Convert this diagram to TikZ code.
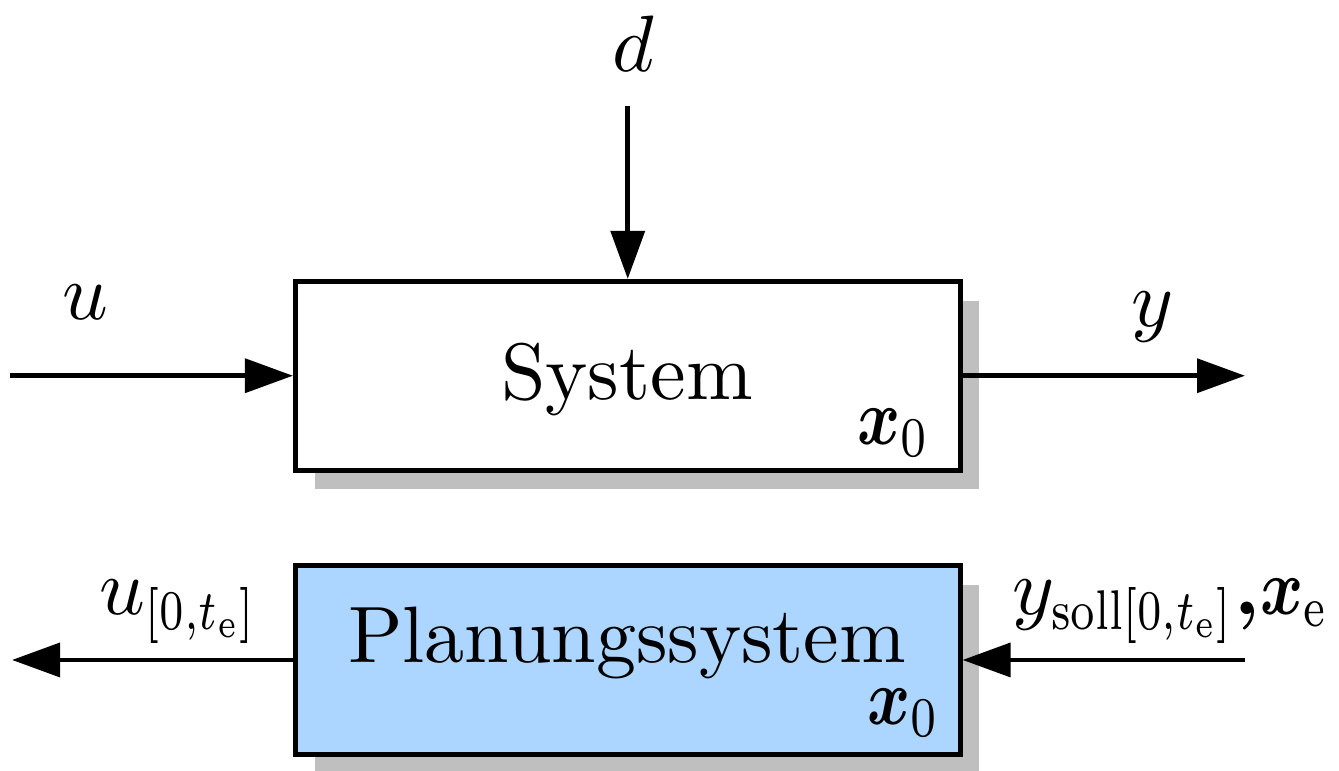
\documentclass[tikz,border=0pt]{standalone}
\usepackage{amsmath}
\usepackage{graphicx}
\usetikzlibrary{arrows.meta,shadows}

\definecolor{planfill}{RGB}{172,214,255}

% compact subscripts and state labels
\newcommand{\tightsub}[1]{\scalebox{0.77}[1]{$\scriptstyle #1$}}
\newcommand{\statelbl}[1]{\scalebox{0.82}[1]{$#1$}}

\tikzset{
  blockbox/.style={draw, line width=0.6pt, minimum width=83.1pt, minimum height=23.6pt,
    inner sep=0pt, fill=white,
    drop shadow={shadow xshift=2.4pt, shadow yshift=-2.4pt, fill=black!25, opacity=1}},
  signal/.style={line width=0.6pt, -{Triangle[length=6pt,width=4.2pt]}},
  lbl/.style={inner sep=0pt, outer sep=0pt},
}

\begin{document}
\begin{tikzpicture}[x=0.125pt, y=-0.125pt]
  \useasboundingbox (0,0) rectangle (1339,771);

  % blocks
  \node[blockbox] (sys) at (627.75,375.75) {};
  \node[blockbox, fill=planfill] (plan) at (627.75,660) {};

  % block texts
  \node[lbl, anchor=base] (systxt) at (627,400) {System};
  \node[lbl, anchor=base west] (sysx) at (857,445) {\statelbl{\boldsymbol{x}_0}};
  \node[lbl, anchor=base] (plantxt) at (627,663) {Planungssystem};
  \node[lbl, anchor=base west] (planx) at (867,725) {\statelbl{\boldsymbol{x}_0}};

  % free ends of the signals
  \coordinate (uin) at (10,375.75);
  \coordinate (din) at (627.75,106);
  \coordinate (yout) at (1245,375.75);
  \coordinate (uout) at (12,660);
  \coordinate (yin) at (1245,660);

  % signals
  \draw[signal] (uin) -- (sys.west);
  \draw[signal] (din) -- (sys.north);
  \draw[signal] (sys.east) -- (yout);
  \draw[signal] (plan.west) -- (uout);
  \draw[signal] (yin) -- (plan.east);

  % signal labels
  \node[lbl, anchor=base] (ulbl) at (85,320) {$u$};
  \node[lbl, anchor=base] (dlbl) at (633,72) {$d$};
  \node[lbl, anchor=base] (ylbl) at (1153,327) {$y$};
  \node[lbl, anchor=base west] (uplan) at (100,615)
    {$u_{\tightsub{[0,t_\mathrm{e}]}}$};
  \node[lbl, anchor=base west] (yplan) at (1012,615)
    {$y_{\tightsub{\mathrm{soll}[0,t_\mathrm{e}]}}\boldsymbol{,}\statelbl{\boldsymbol{x}}_{\tightsub{\mathrm{e}}}$};
\end{tikzpicture}
\end{document}
